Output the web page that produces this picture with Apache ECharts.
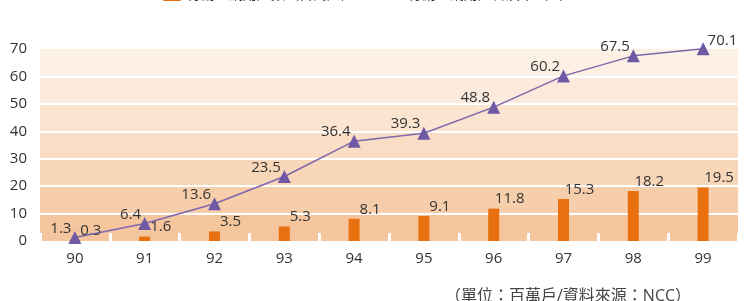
<!DOCTYPE html>
<html>
<head>
<meta charset="utf-8">
<script src="https://cdn.jsdelivr.net/npm/echarts@6/dist/echarts.min.js"></script>
<style>
  html, body { margin: 0; padding: 0; background: #fff; }
  #chart { width: 748px; height: 301px; }
</style>
</head>
<body>
<div id="chart"></div>
<script>
// 資料
const years = ["90", "91", "92", "93", "94", "95", "96", "97", "98", "99"];
const userCount = [0.3, 1.6, 3.5, 5.3, 8.1, 9.1, 11.8, 15.3, 18.2, 19.5];
const rateValues = [1.3, 6.4, 13.6, 23.5, 36.4, 39.3, 48.8, 60.2, 67.5, 70.1];
const barName = "行動上網用戶數（百萬戶）";
const lineName = "行動上網用戶普及率（%）";
const note = "（單位：百萬戶/資料來源：NCC）";

const font = "'Open Sans', 'Noto Sans CJK TC', sans-serif";
const bandColors = ["#f5c69d", "#f7ceab", "#f8d6b8", "#f9ddc4", "#fbe4d0", "#fcebdc", "#fdf1e6"];

let chart = echarts.init(document.getElementById("chart"));

// 最後一點的標籤在右邊
let lineData = rateValues.map((v, i) => {
  if (i == rateValues.length - 1) {
    return { value: v, label: { position: "right", offset: [-2, -8] } };
  }
  return v;
});

let option = {
  animation: false,
  textStyle: { fontFamily: font },
  legend: [
    {
      data: [barName],
      left: 157,
      top: -17,
      itemWidth: 20,
      itemHeight: 12,
      textStyle: { fontSize: 14, color: "#333", fontFamily: font },
    },
    {
      data: [lineName],
      left: 377,
      top: -17,
      itemWidth: 20,
      itemHeight: 12,
      textStyle: { fontSize: 14, color: "#333", fontFamily: font },
    },
  ],
  title: {
    text: note,
    left: 440,
    top: 283,
    textStyle: { fontSize: 16, fontWeight: "normal", color: "#444", fontFamily: font },
  },
  grid: { left: 40, right: 10, top: 49, bottom: 60 },
  xAxis: {
    type: "category",
    data: years,
    axisLine: { show: false },
    axisTick: { show: true, inside: true, length: 8, lineStyle: { color: "#fff", width: 3 } },
    axisLabel: { fontSize: 15, color: "#333", margin: 10 },
  },
  yAxis: {
    type: "value",
    min: 0,
    max: 70,
    interval: 10,
    axisLine: { show: false },
    axisTick: { show: false },
    axisLabel: { fontSize: 15, color: "#333", margin: 13 },
    splitLine: {
      show: true,
      lineStyle: { color: ["transparent", "#fff", "#fff", "#fff", "#fff", "#fff", "#fff", "transparent"], width: 2 },
    },
    splitArea: { show: true, areaStyle: { color: bandColors } },
  },
  series: [
    {
      name: barName,
      type: "bar",
      data: userCount,
      barWidth: 11,
      itemStyle: { color: "#e8700e" },
      label: {
        show: true,
        position: "top",
        offset: [16, 3],
        fontSize: 15,
        color: "#333",
      },
    },
    {
      name: lineName,
      type: "line",
      data: lineData,
      clip: false,
      symbol: "triangle",
      symbolSize: 13,
      lineStyle: { color: "#7d66aa", width: 1.5 },
      itemStyle: { color: "#6f58a4" },
      label: {
        show: true,
        position: "left",
        distance: 0,
        offset: [3, -9],
        fontSize: 15,
        color: "#333",
      },
    },
  ],
};

chart.setOption(option);
</script>
</body>
</html>
